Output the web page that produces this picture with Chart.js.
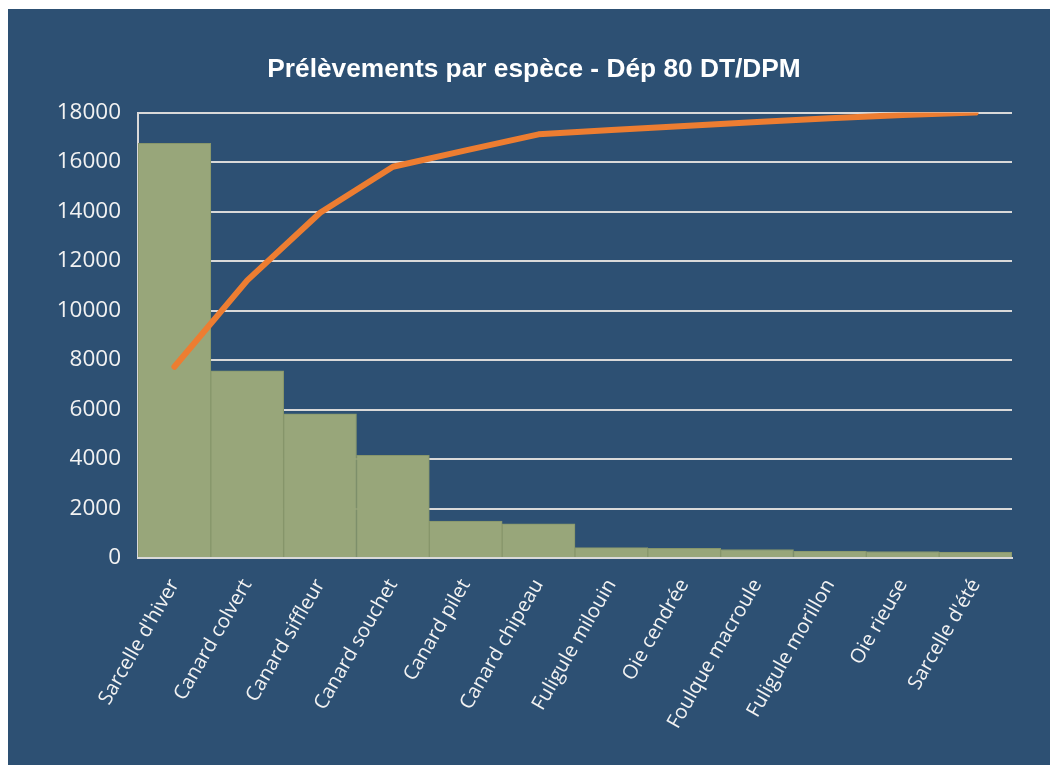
<!DOCTYPE html>
<html>
<head>
<meta charset="utf-8">
<script src="https://cdn.jsdelivr.net/npm/chart.js@4"></script>
<style>
  html, body { margin: 0; padding: 0; background: #ffffff; }
  #panel { position: absolute; left: 8px; top: 9px; width: 1042px; height: 756px; background: #2d5073; }
  #c { display: block; }
</style>
</head>
<body>
<div id="panel"><canvas id="c" width="1042" height="756"></canvas></div>
<script>
const categories = ["Sarcelle d'hiver", "Canard colvert", "Canard siffleur", "Canard souchet", "Canard pilet", "Canard chipeau", "Fuligule milouin", "Oie cendrée", "Foulque macroule", "Fuligule morillon", "Oie rieuse", "Sarcelle d'été"];
const prelevements = [16760, 7560, 5830, 4150, 1490, 1380, 420, 395, 342, 275, 262, 235];
const cumulLine = [7730, 11220, 13950, 15810, 16470, 17120, 17300, 17460, 17620, 17770, 17900, 18000];
const yTicks = [0, 2000, 4000, 6000, 8000, 10000, 12000, 14000, 16000, 18000];
const titleText = "Prélèvements par espèce - Dép 80 DT/DPM";

const shiftTitle = {
  id: 'shiftTitle',
  afterLayout(chart) {
    const t = chart.titleBlock;
    if (t) { t.left += 19; t.right += 19; }
  }
};

new Chart(document.getElementById('c'), {
  type: 'bar',
  data: {
    labels: categories,
    datasets: [
      {
        type: 'line',
        data: cumulLine,
        borderColor: '#ed7d31',
        borderWidth: 6,
        pointRadius: 0,
        tension: 0,
        borderCapStyle: 'round',
        borderJoinStyle: 'round',
        order: 0
      },
      {
        type: 'bar',
        data: prelevements,
        backgroundColor: '#98a67a',
        borderColor: '#87966b',
        borderWidth: 1,
        categoryPercentage: 1,
        barPercentage: 1,
        order: 1
      }
    ]
  },
  plugins: [shiftTitle],
  options: {
    responsive: false,
    animation: false,
    layout: { padding: { top: 45, right: 38, left: 10, bottom: 0 } },
    plugins: {
      legend: { display: false },
      tooltip: { enabled: false },
      title: {
        display: true,
        text: titleText,
        color: '#ffffff',
        font: { family: 'Liberation Sans', size: 26.3, weight: 'bold' },
        padding: { top: 0, bottom: 27 }
      }
    },
    scales: {
      x: {
        grid: { display: false },
        border: { display: true, color: '#d9d9d9', width: 2 },
        ticks: {
          color: '#f2f2f2',
          font: { family: 'Open Sans', size: 20 },
          minRotation: 60,
          maxRotation: 60,
          padding: 9
        },
        afterFit: function (s) { s.height = 207; }
      },
      y: {
        min: 0,
        max: 18000,
        afterBuildTicks: function (s) { s.ticks = yTicks.map(v => ({ value: v })); },
        grid: { color: '#d9d9d9', lineWidth: 2, drawTicks: false },
        border: { display: true, color: '#d9d9d9', width: 2 },
        ticks: {
          color: '#f2f2f2',
          font: { family: 'Open Sans', size: 22.5 },
          padding: 17,
          callback: function (v) { return String(v); }
        },
        afterFit: function (s) { s.width = 120; }
      }
    }
  }
});
</script>
</body>
</html>
